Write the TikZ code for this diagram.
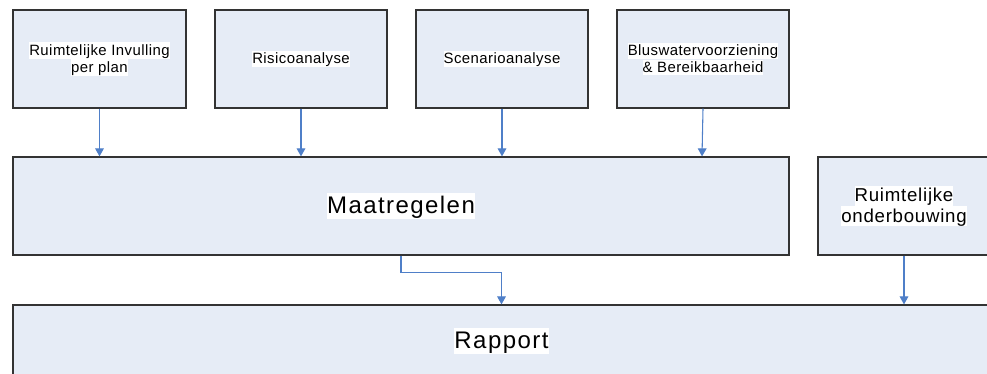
\documentclass[tikz,border=0pt]{standalone}
\usepackage{fontspec}
\setmainfont{Liberation Sans}
\usepackage{tikz}
\usetikzlibrary{positioning,arrows.meta,calc}
\definecolor{blokvul}{HTML}{E6ECF6}
\definecolor{pijlblauw}{HTML}{4F7FC8}
\definecolor{rand}{HTML}{333333}
\newcommand{\wl}[1]{{\setlength{\fboxsep}{0pt}\colorbox{white}{\rule[-0.18em]{0pt}{1.05em}#1}}}
\tikzset{blok/.style = {rectangle,draw=rand,fill=blokvul,line width=0.9pt,inner sep=0pt,align=center},
         klein/.style = {font=\fontsize{11.2}{12.8}\selectfont\addfontfeature{LetterSpace=3}},
         middel/.style = {font=\fontsize{14}{15.5}\selectfont\addfontfeature{LetterSpace=4}},
         groot/.style = {font=\fontsize{18}{20}\selectfont\addfontfeature{LetterSpace=6}},
         pijl/.style = {draw=pijlblauw,line width=0.8pt,-{Triangle[width=6.5pt,length=6pt]}}}

\begin{document}
\begin{tikzpicture}[x=0.75pt, y=-0.75pt]
            \useasboundingbox (0,0) rectangle (987,374);

            \node[blok, klein, minimum width=173*0.75pt, minimum height=98*0.75pt] (invulling) at (99.5, 59) {\wl{Ruimtelijke Invulling}\\\wl{per plan}};
            \node[blok, klein, minimum width=172*0.75pt, minimum height=98*0.75pt] (risico) at (301, 59) {\wl{Risicoanalyse}};
            \node[blok, klein, minimum width=172*0.75pt, minimum height=98*0.75pt] (scenario) at (502, 59) {\wl{Scenarioanalyse}};
            \node[blok, klein, minimum width=172*0.75pt, minimum height=98*0.75pt] (bluswater) at (703, 59) {\wl{Bluswatervoorziening}\\\wl{\& Bereikbaarheid}};

            \node[blok, groot, minimum width=776*0.75pt, minimum height=98*0.75pt] (maatregelen) at (401, 206) {\wl{Maatregelen}};
            \node[blok, middel, minimum width=172*0.75pt, minimum height=98*0.75pt] (onderbouwing) at (904, 206) {\wl{Ruimtelijke}\\\wl{onderbouwing}};

            \node[blok, groot, minimum width=977*0.75pt, minimum height=72*0.75pt] (rapport) at (501.5, 341) {\wl{Rapport}};

            \draw[pijl] (invulling) -- (invulling.south|-maatregelen.north);
            \draw[pijl] (risico) -- (risico.south|-maatregelen.north);
            \draw[pijl] (scenario) -- (scenario.south|-maatregelen.north);
            \draw[pijl] (bluswater.south) -- ($(bluswater.south|-maatregelen.north)+(-1,0)$);
            \draw[pijl] (maatregelen.south) -- ++(0,17) -| (rapport.north);
            \draw[pijl] (onderbouwing.south) -- (onderbouwing.south|-rapport.north);
        \end{tikzpicture}
\end{document}
